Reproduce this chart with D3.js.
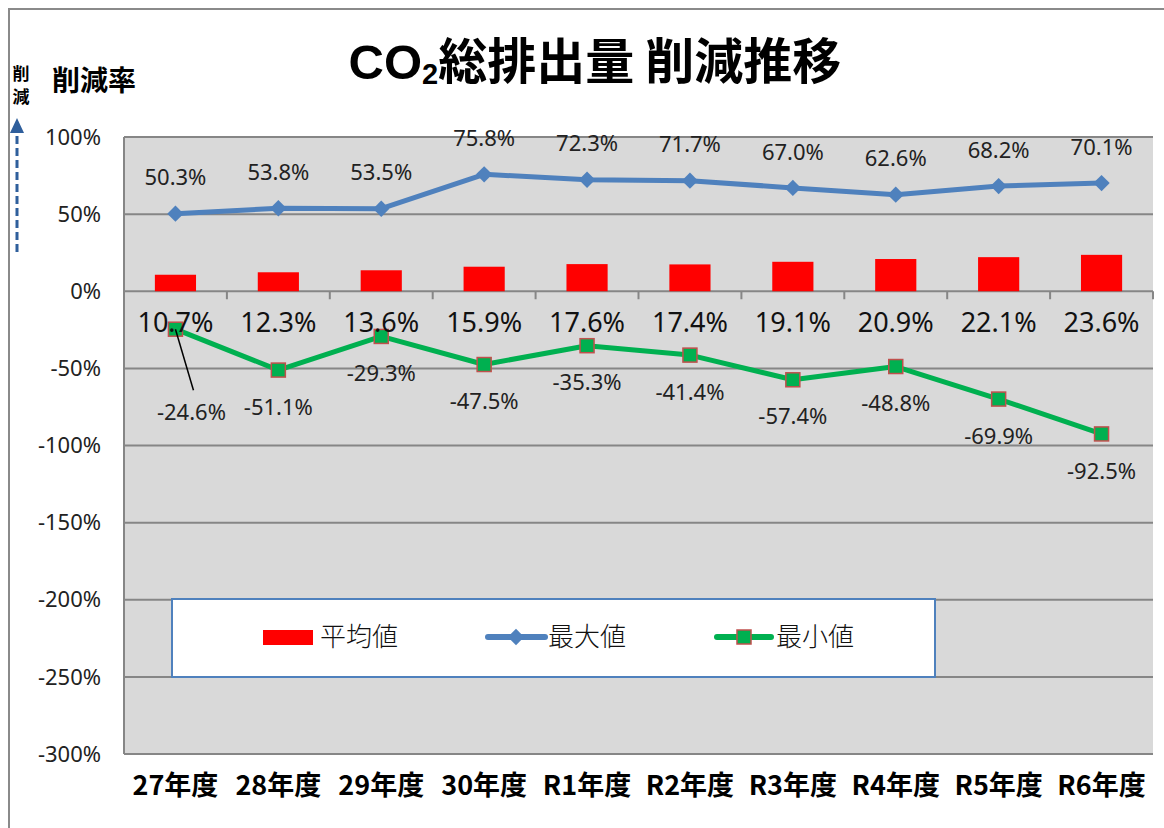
<!DOCTYPE html>
<html>
<head>
<meta charset="utf-8">
<script src="https://cdn.jsdelivr.net/npm/d3@7"></script>
<style>
body { margin: 0; background: #fff; }
svg { display: block; }
</style>
</head>
<body>
<svg width="1164" height="828"></svg>
<script>
var years = ["27年度", "28年度", "29年度", "30年度", "R1年度", "R2年度", "R3年度", "R4年度", "R5年度", "R6年度"];
var avgValues = [10.7, 12.3, 13.6, 15.9, 17.6, 17.4, 19.1, 20.9, 22.1, 23.6];
var maxValues = [50.3, 53.8, 53.5, 75.8, 72.3, 71.7, 67.0, 62.6, 68.2, 70.1];
var minValues = [-24.6, -51.1, -29.3, -47.5, -35.3, -41.4, -57.4, -48.8, -69.9, -92.5];
var yTicks = [100, 50, 0, -50, -100, -150, -200, -250, -300];
var legendNames = ["平均値", "最大値", "最小値"];

var svg = d3.select("svg");
var jp = "'Noto Sans CJK JP', sans-serif";
var num = "'Noto Sans', 'Noto Sans CJK JP', sans-serif";

var plotLeft = 124, plotRight = 1153, plotTop = 137, plotBottom = 754;

var x = d3.scaleBand().domain(years).range([plotLeft, plotRight]).padding(0);
var y = d3.scaleLinear().domain([-300, 100]).range([plotBottom, plotTop]);
var cx = function(d, i) { return x(years[i]) + x.bandwidth() / 2; };
var fmt = function(v) { return v.toFixed(1) + "%"; };

// outer frame (cropped)
svg.append("path")
  .attr("d", "M9,828 L9,9 L1164,9")
  .attr("fill", "none").attr("stroke", "#8a8a8a").attr("stroke-width", 2);

// plot background
svg.append("rect")
  .attr("x", plotLeft).attr("y", plotTop)
  .attr("width", plotRight - plotLeft).attr("height", plotBottom - plotTop)
  .attr("fill", "#d9d9d9");

// gridlines
svg.append("g").selectAll("line")
  .data(yTicks.filter(function(d) { return d !== 0; }))
  .enter().append("line")
  .attr("x1", plotLeft).attr("x2", plotRight)
  .attr("y1", function(d) { return y(d); }).attr("y2", function(d) { return y(d); })
  .attr("stroke", "#868686").attr("stroke-width", 2);

// left axis line
svg.append("line")
  .attr("x1", plotLeft).attr("x2", plotLeft).attr("y1", plotTop).attr("y2", plotBottom)
  .attr("stroke", "#868686").attr("stroke-width", 2);

// y tick labels
svg.append("g").selectAll("text")
  .data(yTicks).enter().append("text")
  .attr("x", 101).attr("y", function(d) { return y(d); })
  .attr("dy", "0.35em")
  .attr("text-anchor", "end")
  .attr("font-family", num).attr("font-size", 22).attr("fill", "#222")
  .text(function(d) { return d + "%"; });

// x axis at zero with ticks at category boundaries
svg.append("line")
  .attr("x1", plotLeft).attr("x2", plotRight).attr("y1", y(0)).attr("y2", y(0))
  .attr("stroke", "#868686").attr("stroke-width", 2);
var bounds = years.map(function(d) { return x(d); }).concat([plotRight]);
svg.append("g").selectAll("line")
  .data(bounds).enter().append("line")
  .attr("x1", function(d) { return d; }).attr("x2", function(d) { return d; })
  .attr("y1", y(0)).attr("y2", y(0) + 8)
  .attr("stroke", "#868686").attr("stroke-width", 2);

// category labels
svg.append("g").selectAll("text")
  .data(years).enter().append("text")
  .attr("x", function(d) { return x(d) + x.bandwidth() / 2; })
  .attr("y", 795)
  .attr("text-anchor", "middle")
  .attr("font-family", jp).attr("font-size", 27).attr("font-weight", "bold")
  .attr("fill", "#000")
  .text(function(d) { return d; });

// bars (average)
var barW = x.bandwidth() * 0.4;
svg.append("g").selectAll("rect")
  .data(avgValues).enter().append("rect")
  .attr("x", function(d, i) { return cx(d, i) - barW / 2; })
  .attr("y", function(d) { return y(d); })
  .attr("width", barW)
  .attr("height", function(d) { return y(0) - y(d); })
  .attr("fill", "#ff0000");

// max line
var line = d3.line()
  .x(function(d, i) { return cx(d, i); })
  .y(function(d) { return y(d); });

svg.append("path")
  .datum(maxValues)
  .attr("d", line)
  .attr("fill", "none").attr("stroke", "#4f81bd").attr("stroke-width", 5)
  .attr("stroke-linejoin", "round");

svg.append("g").selectAll("path")
  .data(maxValues).enter().append("path")
  .attr("d", d3.symbol().type(d3.symbolDiamond2).size(170))
  .attr("transform", function(d, i) { return "translate(" + cx(d, i) + "," + y(d) + ")"; })
  .attr("fill", "#4f81bd");

// min line
svg.append("path")
  .datum(minValues)
  .attr("d", line)
  .attr("fill", "none").attr("stroke", "#00b050").attr("stroke-width", 5)
  .attr("stroke-linejoin", "round");

svg.append("g").selectAll("rect")
  .data(minValues).enter().append("rect")
  .attr("x", function(d, i) { return cx(d, i) - 7; })
  .attr("y", function(d) { return y(d) - 7; })
  .attr("width", 14).attr("height", 14)
  .attr("fill", "#00b050").attr("stroke", "#c0504d").attr("stroke-width", 1.5);

// data labels
svg.append("g").selectAll("text")
  .data(maxValues).enter().append("text")
  .attr("x", cx)
  .attr("y", function(d) { return y(d) - 36; })
  .attr("dy", "0.35em").attr("text-anchor", "middle")
  .attr("font-family", num).attr("font-size", 22).attr("fill", "#222")
  .text(fmt);

svg.append("g").selectAll("text")
  .data(avgValues).enter().append("text")
  .attr("x", cx)
  .attr("y", 323)
  .attr("dy", "0.35em").attr("text-anchor", "middle")
  .attr("font-family", num).attr("font-size", 27).attr("fill", "#111")
  .text(fmt);

// first min label was dragged away, with a leader line
var lx0 = cx(minValues[0], 0) + 16, ly0 = y(minValues[0]) + 83;
svg.append("line")
  .attr("x1", cx(minValues[0], 0)).attr("y1", y(minValues[0]))
  .attr("x2", lx0 + 2).attr("y2", ly0 - 22)
  .attr("stroke", "#000").attr("stroke-width", 1.5);

svg.append("g").selectAll("text")
  .data(minValues).enter().append("text")
  .attr("x", function(d, i) { return i === 0 ? lx0 : cx(d, i); })
  .attr("y", function(d, i) { return i === 0 ? ly0 : y(d) + 37; })
  .attr("dy", "0.35em").attr("text-anchor", "middle")
  .attr("font-family", num).attr("font-size", 22).attr("fill", "#222")
  .text(fmt);

// legend
var lg = svg.append("g");
lg.append("rect")
  .attr("x", 172).attr("y", 599).attr("width", 763).attr("height", 78)
  .attr("fill", "#fff").attr("stroke", "#4f81bd").attr("stroke-width", 2);

var legX = [263, 488, 717];
var legY = 637;
lg.append("rect").attr("x", legX[0]).attr("y", legY - 7).attr("width", 50).attr("height", 15).attr("fill", "#ff0000");
lg.append("line").attr("x1", legX[1]).attr("x2", legX[1] + 57).attr("y1", legY).attr("y2", legY)
  .attr("stroke", "#4f81bd").attr("stroke-width", 6).attr("stroke-linecap", "round");
lg.append("path").attr("d", d3.symbol().type(d3.symbolDiamond2).size(170))
  .attr("transform", "translate(" + (legX[1] + 28) + "," + legY + ")").attr("fill", "#4f81bd");
lg.append("line").attr("x1", legX[2]).attr("x2", legX[2] + 54).attr("y1", legY).attr("y2", legY)
  .attr("stroke", "#00b050").attr("stroke-width", 6).attr("stroke-linecap", "round");
lg.append("rect").attr("x", legX[2] + 20).attr("y", legY - 7).attr("width", 14).attr("height", 14)
  .attr("fill", "#00b050").attr("stroke", "#c0504d").attr("stroke-width", 1.5);

lg.selectAll("text.leg")
  .data(legendNames).enter().append("text")
  .attr("class", "leg")
  .attr("x", function(d, i) { return legX[i] + [57, 60, 59][i]; })
  .attr("y", legY).attr("dy", "0.35em")
  .attr("font-family", jp).attr("font-size", 26).attr("font-weight", 300).attr("fill", "#111")
  .text(function(d) { return d; });

// title
var title = svg.append("text")
  .attr("x", 595).attr("y", 79)
  .attr("text-anchor", "middle")
  .attr("font-family", jp).attr("font-size", 49).attr("font-weight", "bold")
  .attr("fill", "#000");
title.append("tspan").attr("font-family", "'Liberation Sans', sans-serif").text("CO");
title.append("tspan").attr("font-family", "'Liberation Sans', sans-serif").attr("font-size", 29)
  .attr("dy", 5).text("2");
title.append("tspan").attr("dy", -5).text("総排出量 削減推移");

// y axis caption
svg.append("text")
  .attr("x", 52).attr("y", 81).attr("dy", "0.35em")
  .attr("font-family", jp).attr("font-size", 28).attr("font-weight", "bold")
  .text("削減率");
svg.append("text")
  .attr("x", 21).attr("y", 74).attr("dy", "0.35em").attr("text-anchor", "middle")
  .attr("font-family", jp).attr("font-size", 17).attr("font-weight", "bold")
  .text("削");
svg.append("text")
  .attr("x", 21).attr("y", 97).attr("dy", "0.35em").attr("text-anchor", "middle")
  .attr("font-family", jp).attr("font-size", 17).attr("font-weight", "bold")
  .text("減");

// dashed arrow
svg.append("line")
  .attr("x1", 17).attr("x2", 17).attr("y1", 252).attr("y2", 132)
  .attr("stroke", "#2f5f9c").attr("stroke-width", 3).attr("stroke-dasharray", "8,4");
svg.append("path")
  .attr("d", "M17,118 L10,133 L24,133 Z")
  .attr("fill", "#2f5f9c");
</script>
</body>
</html>
